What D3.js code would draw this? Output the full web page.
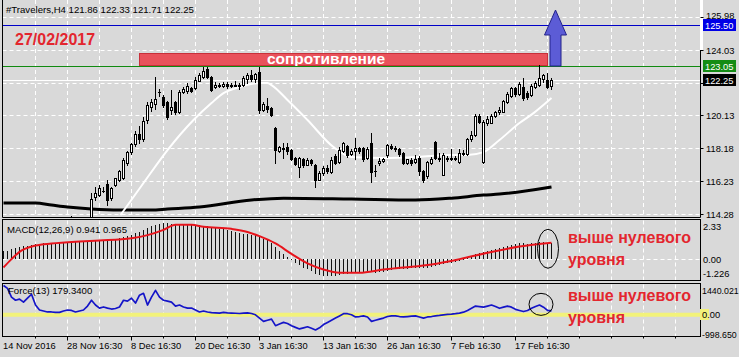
<!DOCTYPE html>
<html><head><meta charset="utf-8">
<script src="https://cdn.jsdelivr.net/npm/d3@7"></script>
<style>body{margin:0;background:#d9d9d9;} svg{display:block;font-family:"Liberation Sans",Arial,sans-serif;}</style>
</head><body><svg id="c" width="739" height="357"></svg>
<script>
// ---------- DATA ----------
const symbolTitle = "#Travelers,H4  121.86 122.33 121.71 122.25";
const dateNote = "27/02/2017";
const resistanceText = "сопротивление";
const noteLine1 = "выше нулевого";
const noteLine2 = "уровня";
// candles: [open, high, low, close], one per H4 bar
const candles = [
[111.5,112.3,111.2,112.1],[112.1,112.6,111.9,112.4],[112.4,112.8,112.0,112.2],[112.2,112.9,112.1,112.8],
[112.8,113.3,112.6,113.1],[113.1,113.4,112.7,112.9],[112.9,113.5,112.8,113.4],[113.4,113.7,113.1,113.3],
[113.3,113.6,112.9,113.0],[113.0,113.5,112.9,113.4],[113.4,113.8,113.2,113.6],[113.6,113.8,113.3,113.4],
[113.4,113.7,113.2,113.6],[113.6,113.9,113.4,113.7],[113.7,113.9,113.5,113.6],[113.6,113.9,113.4,113.8],
[113.8,114.1,113.6,113.9],[113.9,114.15,113.7,113.8],[113.8,114.05,113.5,113.6],[113.6,113.85,113.3,113.5],
[113.5,113.8,113.2,113.7],[113.7,113.95,113.5,113.9],
[114.10,115.50,113.95,115.14],[115.26,115.85,115.06,115.50],[115.39,116.0,115.30,115.79],[115.62,115.85,115.55,115.65],
[116.05,116.28,114.8,115.10],[115.20,115.85,115.10,115.80],[115.98,116.40,115.9,116.40],[116.28,116.9,116.20,116.81],
[116.40,117.6,116.35,117.47],[117.29,118.0,117.2,117.94],[117.95,118.5,117.85,118.4],[118.4,119.2,118.3,119.0],
[119.0,119.5,118.5,118.7],[118.7,120.0,118.6,119.8],[119.85,120.92,119.67,120.74],[120.62,121.1,120.4,120.92],
[120.8,122.41,120.5,121.1],[121.5,121.7,121.3,121.5],[121.22,121.35,120.6,120.74],[120.92,121.0,119.9,120.03],
[120.45,121.63,120.2,120.6],[120.92,121.0,120.2,120.32],[120.32,121.65,120.25,121.51],[121.5,121.8,121.45,121.7],
[121.6,122.05,121.45,121.9],[121.75,121.8,121.5,121.6],[121.75,122.41,121.7,122.23],[122.2,122.65,122.15,122.5],
[122.4,123.0,122.35,122.75],[122.9,123.0,122.35,122.4],[122.4,122.45,121.6,121.65],[121.8,122.1,121.75,121.95],
[121.95,122.05,121.8,121.85],[121.85,122.1,121.8,122.0],[122.0,122.1,121.75,121.85],[121.85,122.05,121.8,121.95],
[121.95,122.2,121.85,121.9],[121.9,122.05,121.7,121.95],[121.93,122.45,121.9,122.35],[122.3,122.65,122.05,122.5],
[122.5,122.8,122.2,122.3],[122.3,122.65,122.1,122.6],[122.70,123.0,120.26,120.44],[120.45,120.95,120.4,120.8],
[120.7,121.15,120.3,120.5],[120.55,120.6,120.1,120.15],[119.37,119.45,117.29,118.06],[118.0,118.3,117.95,118.24],
[118.1,118.48,117.6,118.2],[118.24,118.48,117.8,118.0],[118.06,118.1,117.45,117.5],[117.6,117.65,117.2,117.25],
[117.05,117.65,116.45,117.59],[117.5,117.6,117.05,117.2],[117.2,117.6,117.15,117.45],[117.45,117.5,117.2,117.3],
[117.2,117.25,115.86,116.3],[116.3,116.8,116.27,116.7],[116.7,117.1,116.6,117.0],[117.0,117.2,116.7,116.8],
[116.75,117.65,116.7,117.45],[117.7,117.8,117.25,117.3],[117.35,118.25,117.3,118.05],[118.0,118.55,117.95,118.5],
[118.3,118.35,117.65,117.75],[117.8,118.1,117.75,118.0],[118.0,118.8,117.5,118.2],[118.2,118.25,117.9,118.0],
[118.2,118.25,117.4,117.5],[117.6,118.25,117.55,118.15],[118.48,119.07,116.16,116.75],[116.8,117.2,116.5,116.8],
[117.3,117.6,117.2,117.4],[117.4,117.6,117.35,117.5],[117.77,118.45,117.65,118.36],[118.3,118.4,118.1,118.2],
[118.2,118.3,118.0,118.1],[118.15,118.2,117.7,117.8],[117.9,117.95,117.25,117.3],[117.3,117.55,117.25,117.5],
[117.45,117.6,117.15,117.3],[117.35,117.75,117.3,117.55],[117.6,117.7,116.55,116.8],[116.8,116.85,116.16,116.3],
[116.5,117.4,116.4,117.35],[117.3,117.65,117.25,117.5],[118.55,118.6,117.5,117.6],[117.6,117.9,117.4,117.5],
[116.6,117.9,116.55,117.75],[117.6,117.7,117.4,117.5],[117.5,118.1,117.45,117.6],[117.6,117.7,117.45,117.55],
[117.35,118.1,117.3,117.9],[117.8,118.05,117.75,117.9],[117.8,118.8,117.75,118.7],[118.7,119.2,118.6,118.95],
[118.95,120.2,118.9,120.1],[120.1,120.2,119.7,119.75],[117.35,119.85,117.3,119.73],[119.7,120.1,119.55,119.9],
[119.7,120.2,119.65,120.1],[120.1,120.4,120.0,120.3],[120.3,120.6,120.2,120.45],[120.35,121.05,120.3,121.0],
[120.9,121.5,120.85,121.4],[121.3,121.8,121.2,121.75],[121.75,121.8,121.3,121.4],[121.4,122.1,121.35,122.0],
[121.81,122.35,121.04,121.16],[121.45,121.55,121.1,121.2],[121.35,122.0,121.3,121.9],[121.8,122.2,121.75,122.05],
[121.93,123.12,121.85,122.35],[122.3,122.6,122.1,122.5],[122.25,122.65,121.75,121.83],[121.86,122.33,121.71,122.25]
];
// moving averages: [bar index, price]
const maFast = [[29.25,114.19],[35,116.10],[41,118.06],[47.5,119.85],[52,120.86],[55,121.45],[59,121.81],[64,122.05],[66,122.05],[67,121.93],[71,121.04],[76,119.85],[82.5,118.24],[87,117.65],[95,117.59],[103.5,117.65],[112,117.77],[116,117.77],[120,117.94],[124,118.66],[129,119.67],[132.5,120.26],[137,121.16]];
const maSlow = [[0,114.91],[8,114.91],[12,114.79],[16,114.67],[22,114.55],[29,114.49],[37,114.49],[41,114.55],[49,114.67],[62,115.09],[70,115.20],[87,115.15],[103,115.09],[112,115.20],[120,115.38],[124,115.44],[137,115.86]];
// MACD main (histogram), one per bar
const macd = [0.45,0.50,0.58,0.65,0.70,0.75,0.80,0.85,0.88,0.90,0.92,0.93,0.95,0.96,0.97,0.98,1.0,1.0,1.0,1.0,1.02,1.03,
1.05,1.07,1.1,1.12,1.12,1.15,1.18,1.22,1.28,1.35,1.42,1.52,1.62,1.72,1.82,1.92,2.0,2.05,2.1,2.1,2.08,2.05,2.05,2.05,2.05,2.0,2.0,1.98,
1.97,1.95,1.9,1.85,1.8,1.75,1.7,1.65,1.6,1.55,1.5,1.45,1.42,1.4,1.3,1.2,1.1,0.95,0.7,0.5,0.3,0.12,-0.05,-0.2,-0.35,-0.5,-0.6,-0.7,
-0.85,-0.95,-1.0,-1.02,-1.0,-1.0,-0.95,-0.88,-0.85,-0.82,-0.78,-0.75,-0.75,-0.72,-0.75,-0.8,-0.78,-0.75,-0.7,-0.65,-0.6,-0.58,
-0.58,-0.57,-0.55,-0.52,-0.52,-0.55,-0.5,-0.45,-0.38,-0.35,-0.3,-0.25,-0.2,-0.15,-0.1,-0.05,0.05,0.15,0.28,0.35,0.42,0.48,0.55,
0.6,0.65,0.72,0.78,0.85,0.88,0.92,0.92,0.9,0.92,0.95,0.98,1.0,0.97,0.941];
// MACD signal readings: [bar index, value]
const macdSignal = [[0,-0.49],[2,0.0],[4,0.43],[8,0.80],[12,0.92],[19,1.04],[24,1.10],[32,1.23],[36,1.41],[40,1.72],[43,2.02],[47,2.02],[50,1.90],[57,1.78],[61,1.60],[64,1.35],[68,0.92],[72,0.31],[76,-0.25],[80,-0.61],[84,-0.80],[89,-0.80],[95,-0.61],[100,-0.49],[107,-0.31],[114,0.0],[121,0.37],[129,0.74],[137,0.965]];
// Force(13), one per bar
const force = [1350,1215,810,670,720,580,765,945,450,220,175,130,130,110,110,175,220,200,130,175,220,400,670,450,310,360,310,265,290,360,
670,630,765,540,900,990,450,810,1125,810,670,630,580,400,450,360,310,310,220,130,175,130,100,90,80,110,90,80,70,60,80,90,60,
0,-150,-300,-250,-200,-500,-420,-350,-400,-500,-580,-650,-600,-550,-620,-700,-600,-450,-350,-250,-150,-50,50,50,0,-100,-80,-50,-100,
-300,-250,-200,-150,-80,-50,-50,-80,-100,-80,-60,-50,-100,-150,-100,-80,-50,-30,0,20,30,50,80,120,200,300,400,380,350,400,450,380,
300,350,400,350,250,200,150,200,300,380,450,350,200,179.34];
const priceTicks = [125.98,124.03,122.08,120.13,118.18,116.23,114.28];
const priceTickLabels = ["125.98","124.03","","120.13","118.18","116.23","114.28"];
const macdTickLabels = ["2.33","0.00","-1.226"];
const forceTickLabels = ["1440.021","0.00","-998.650"];
const timeTickBars = [0,16,32,48,64,80,96,112,128];
const timeTickLabels = ["14 Nov 2016","28 Nov 16:30","8 Dec 16:30","20 Dec 16:30","3 Jan 16:30","13 Jan 16:30","26 Jan 16:30","7 Feb 16:30","17 Feb 16:30"];
const levelTarget = 125.50, levelResist = 123.05, levelLast = 122.25;
const zoneBars = [34,136], zonePrices = [123.12,123.83];
const arrowBar = 138, arrowFrom = 123.05, arrowNeck = 124.9, arrowTip = 126.4;

// ---------- LAYOUT ----------
const svg = d3.select("#c");
const BG = "#d9d9d9";
const AXF = 9.3;
const left = 2.5, right = 700.5;
const main = {top:-1, bottom:217.5}, mp = {top:219.5, bottom:280.5}, fp = {top:283.5, bottom:336.5};
const x = d3.scaleLinear().domain([0,1]).range([3,7]);
const yP = d3.scaleLinear().domain([114.28,125.98]).range([213.6,17]);
const yM = d3.scaleLinear().domain([-1.226,2.33]).range([280,219.5]);
const yF = d3.scaleLinear().domain([-998.65,1440.021]).range([336.5,283.5]);
const R = v => Math.round(v);

svg.append("rect").attr("width",739).attr("height",357).attr("fill",BG);
const defs = svg.append("defs");
[["cm",main],["cmacd",mp],["cf",fp]].forEach(([id,p])=>{
  defs.append("clipPath").attr("id",id).append("rect").attr("x",left).attr("y",p.top).attr("width",right-left).attr("height",p.bottom-p.top);
});

// grid
const grid = svg.append("g").attr("stroke","#ffffff").attr("stroke-width",1).attr("stroke-dasharray","4,3");
const maxBar = x.invert(right);
for (let b=8; b<maxBar; b+=8){
  const gx = R(x(b))+0.5;
  [main,mp,fp].forEach(p=>grid.append("line").attr("x1",gx).attr("x2",gx).attr("y1",p.top+1).attr("y2",p.bottom));
}
priceTicks.forEach(v=>grid.append("line").attr("x1",left).attr("x2",right).attr("y1",R(yP(v))+0.5).attr("y2",R(yP(v))+0.5));
grid.append("line").attr("x1",left).attr("x2",right).attr("y1",R(yM(0))+0.5).attr("y2",R(yM(0))+0.5);

// ---------- MAIN PANEL ----------
const gm = svg.append("g").attr("clip-path","url(#cm)");
// resistance zone
gm.append("rect").attr("x",R(x(zoneBars[0]))+0.5).attr("y",R(yP(zonePrices[1]))+0.5)
  .attr("width",R(x(zoneBars[1]))-R(x(zoneBars[0]))).attr("height",R(yP(zonePrices[0]))-R(yP(zonePrices[1])))
  .attr("fill","#e9525b").attr("stroke","#c8303a");
gm.append("text").attr("x",(x(zoneBars[0])+x(zoneBars[1]))/2 - 17).attr("y",R(yP(zonePrices[0]))-1)
  .attr("text-anchor","middle").attr("fill","#ffffff").attr("font-size",15.5).attr("font-weight","bold").text(resistanceText);

const lineP = d3.line().x(d=>x(d[0])+0.5).y(d=>yP(d[1])).curve(d3.curveMonotoneX);
gm.append("path").attr("d",lineP(maSlow)).attr("fill","none").attr("stroke","#000").attr("stroke-width",3);
gm.append("path").attr("d",lineP(maFast)).attr("fill","none").attr("stroke","#ffffff").attr("stroke-width",2);

// horizontal levels
gm.append("line").attr("x1",left).attr("x2",right).attr("y1",R(yP(levelTarget))+0.5).attr("y2",R(yP(levelTarget))+0.5).attr("stroke","#0000c8");
gm.append("line").attr("x1",left).attr("x2",right).attr("y1",R(yP(levelResist))+0.5).attr("y2",R(yP(levelResist))+0.5).attr("stroke","#108a10");
gm.append("line").attr("x1",left).attr("x2",right).attr("y1",R(yP(levelLast))+0.5).attr("y2",R(yP(levelLast))+0.5).attr("stroke","#ffffff");

// candles
const gc = gm.append("g");
candles.forEach((d,i)=>{
  const [o,h,l,c] = d; const cx = R(x(i));
  gc.append("line").attr("x1",cx+0.5).attr("x2",cx+0.5).attr("y1",R(yP(h))).attr("y2",R(yP(l))+1).attr("stroke","#000");
  const top = R(yP(Math.max(o,c))), bot = R(yP(Math.min(o,c)));
  if (bot-top < 1) {
    gc.append("line").attr("x1",cx-1).attr("x2",cx+2).attr("y1",top+0.5).attr("y2",top+0.5).attr("stroke","#000");
  } else {
    gc.append("rect").attr("x",cx-0.5).attr("y",top+0.5).attr("width",2).attr("height",bot-top)
      .attr("fill", c>=o ? "#ffffff" : "#000000").attr("stroke","#000");
  }
});

// arrow
const ax = x(arrowBar)+0.5, yb = R(yP(arrowFrom)), yn = R(yP(arrowNeck)), yt = R(yP(arrowTip));
svg.append("path").attr("d",`M${ax-5.5},${yb}L${ax-5.5},${yn}L${ax-11},${yn}L${ax},${yt}L${ax+11},${yn}L${ax+5.5},${yn}L${ax+5.5},${yb}Z`)
  .attr("fill","#5c5cd6").attr("stroke","#23238a").attr("stroke-width",1);

// texts
svg.append("text").attr("x",6).attr("y",13).attr("font-size",9.6).attr("fill","#000").text(symbolTitle);
svg.append("text").attr("x",15).attr("y",45).attr("font-size",16).attr("font-weight","bold").attr("fill","#e3262e").text(dateNote);

// ---------- MACD PANEL ----------
const gmd = svg.append("g").attr("clip-path","url(#cmacd)");
macd.forEach((v,i)=>{
  const cx = R(x(i))+0.5;
  gmd.append("line").attr("x1",cx).attr("x2",cx).attr("y1",R(yM(0))).attr("y2",R(yM(v))).attr("stroke","#111").attr("stroke-width",1);
});
const lineM = d3.line().x(d=>x(d[0])+0.5).y(d=>yM(d[1])).curve(d3.curveMonotoneX);
gmd.append("path").attr("d",lineM(macdSignal)).attr("fill","none").attr("stroke","#e8141c").attr("stroke-width",2);
svg.append("text").attr("x",7).attr("y",233).attr("font-size",9.6).attr("fill","#000").text("MACD(12,26,9) 0.941 0.965");

// ---------- FORCE PANEL ----------
const gf = svg.append("g").attr("clip-path","url(#cf)");
gf.append("line").attr("x1",left).attr("x2",right).attr("y1",yF(0)).attr("y2",yF(0)).attr("stroke","#f2f27a").attr("stroke-width",4);
const lineF = d3.line().x((d,i)=>x(i)+0.5).y(d=>yF(d));
gf.append("path").attr("d",lineF(force)).attr("fill","none").attr("stroke","#1414c8").attr("stroke-width",1.7).attr("stroke-linejoin","round");
svg.append("text").attr("x",8).attr("y",294).attr("font-size",9.6).attr("fill","#000").text("Force(13) 179.3400");

// notes
[[243,265],[301,323]].forEach(([y1,y2])=>{
  svg.append("text").attr("x",568).attr("y",y1).attr("font-size",16).attr("font-weight","bold").attr("fill","#e3262e").text(noteLine1);
  svg.append("text").attr("x",568).attr("y",y2).attr("font-size",16).attr("font-weight","bold").attr("fill","#e3262e").text(noteLine2);
});
svg.append("ellipse").attr("cx",x(136)+1).attr("cy",(yM(2.33)+yM(-1.226))/2-1).attr("rx",10.5).attr("ry",19.5).attr("fill","none").attr("stroke","#000");
svg.append("ellipse").attr("cx",x(134)+2).attr("cy",yF(480)).attr("rx",12).attr("ry",11).attr("fill","none").attr("stroke","#000");

// ---------- FRAMES ----------
const fr = svg.append("g").attr("fill","none").attr("stroke","#000").attr("stroke-width",1);
fr.append("path").attr("d",`M${left},0V${main.bottom}H${right}V0`);
[mp,fp].forEach(p=>fr.append("rect").attr("x",left).attr("y",p.top).attr("width",right-left).attr("height",p.bottom-p.top));
svg.append("rect").attr("x",700).attr("y",0).attr("width",3).attr("height",50).attr("fill","#ffffff");

// ---------- PRICE AXIS ----------
const ax2 = svg.append("g").attr("font-size",AXF).attr("fill","#000");
priceTicks.forEach((v,k)=>{
  const yy = R(yP(v))+0.5;
  ax2.append("line").attr("x1",right).attr("x2",right+3).attr("y1",yy).attr("y2",yy).attr("stroke","#000");
  if (priceTickLabels[k]) ax2.append("text").attr("x",706).attr("y",k===0 ? yy+1.5 : yy+3.5).text(priceTickLabels[k]);
});
function tag(v,bg){
  const yy = R(yP(v));
  ax2.append("rect").attr("x",703).attr("y",yy-6).attr("width",33).attr("height",12).attr("fill",bg);
  ax2.append("text").attr("x",705).attr("y",yy+4).attr("fill","#fff").text(v.toFixed(2));
}
tag(levelTarget,"#0000e6"); tag(levelResist,"#148c14"); tag(levelLast,"#000000");
const macdLabelY = [226, R(yM(0))+0.5, 273];
macdTickLabels.forEach((t,k)=>ax2.append("text").attr("x",703).attr("y",macdLabelY[k]+3.5).text(t));
ax2.append("rect").attr("x",700).attr("y",309).attr("width",9).attr("height",11).attr("fill","#f2f27a");
const forceLabelY = [290, R(yF(0))-0.5, 334];
forceTickLabels.forEach((t,k)=>ax2.append("text").attr("x",702).attr("y",forceLabelY[k]+3.5).attr("font-size",k===1?AXF:8.8).text(t));

// ---------- TIME AXIS ----------
const tx = svg.append("g").attr("font-size",AXF).attr("fill","#000");
for (let b=8; b<maxBar; b+=8){
  const gx = R(x(b))+0.5;
  const major = timeTickBars.includes(b);
  tx.append("line").attr("x1",gx).attr("x2",gx).attr("y1",fp.bottom).attr("y2",fp.bottom+(major?4:2)).attr("stroke","#000");
}
timeTickBars.forEach((b,k)=>{
  tx.append("text").attr("x",R(x(b))).attr("y",349).text(timeTickLabels[k]);
});
</script></body></html>
